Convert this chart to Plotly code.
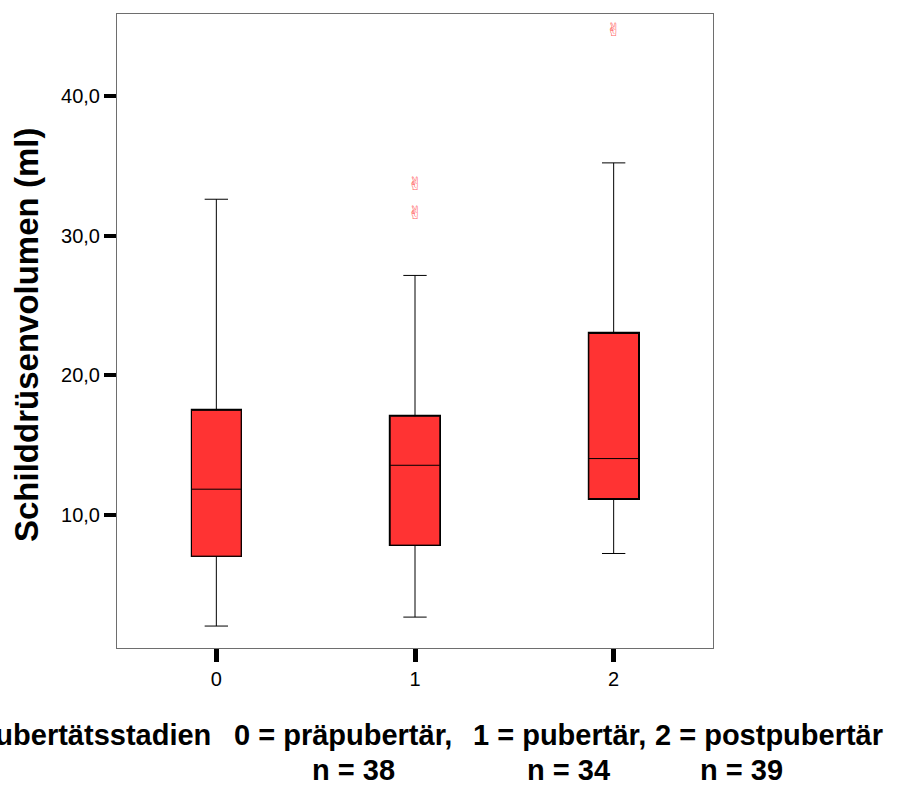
import plotly.graph_objects as go

# ---- data ----
groups = [0, 1, 2]
tick_labels = ["0", "1", "2"]
q1 = [7.07, 7.86, 11.19]
median = [11.86, 13.57, 14.05]
q3 = [17.5, 17.08, 23.0]
lower_whisker = [2.07, 2.71, 7.26]
upper_whisker = [32.6, 27.15, 35.2]
outlier_x = [1, 1, 2]
outlier_y = [33.6, 31.5, 44.6]
y_ticks = [10, 20, 30, 40]
x_title_parts = ["Pubertätsstadien", "0 = präpubertär,", "1 = pubertär,", "2 = postpubertär"]
n_labels = ["n = 38", "n = 34", "n = 39"]

FONT = "Liberation Sans, Arial, sans-serif"
RED = "#FF3333"
TICK_SIZE = 20
TEXT_SIZE = 29

# plot-area pixel geometry
W, H = 901, 789
L, R, T, B = 117, 713, 14, 648


def pxx(px):
    return (px - L) / (R - L)


def pxy(py):
    return (B - py) / (B - T)


fig = go.Figure()

# thick outline of the boxes (drawn below the box trace)
fig.add_trace(go.Bar(
    x=groups,
    base=q1,
    y=[b - a for a, b in zip(q1, q3)],
    width=0.25,
    marker=dict(color=RED, line=dict(color="black", width=2.2)),
    hoverinfo="skip",
    showlegend=False,
))

fig.add_trace(go.Box(
    x=groups,
    q1=q1,
    median=median,
    q3=q3,
    lowerfence=lower_whisker,
    upperfence=upper_whisker,
    width=0.25,
    whiskerwidth=0.47,
    fillcolor=RED,
    line=dict(color="black", width=1),
    boxpoints=False,
    showlegend=False,
))

fig.add_trace(go.Scatter(
    x=outlier_x,
    y=outlier_y,
    mode="text",
    text=["✌"] * len(outlier_x),
    textfont=dict(family="DejaVu Sans", size=18, color="#FF6060"),
    textposition="middle center",
    showlegend=False,
    hoverinfo="skip",
))

annotations = []
# y axis title
annotations.append(dict(
    text="<b>Schilddrüsenvolumen (ml)</b>",
    xref="paper", yref="paper",
    x=pxx(26), y=pxy(335),
    xanchor="center", yanchor="middle",
    textangle=-90, showarrow=False,
    font=dict(family=FONT, size=33, color="black"),
))

# x title, line 1
line1_y = pxy(735)
annotations.append(dict(
    text="<b>" + x_title_parts[0] + "</b>", xref="paper", yref="paper",
    x=pxx(213), y=line1_y, xanchor="right", yanchor="middle",
    showarrow=False, font=dict(family=FONT, size=TEXT_SIZE, color="black"),
))
for part, left in zip(x_title_parts[1:], [232, 471, 653]):
    annotations.append(dict(
        text="<b>" + part + "</b>", xref="paper", yref="paper",
        x=pxx(left), y=line1_y, xanchor="left", yanchor="middle",
        showarrow=False, font=dict(family=FONT, size=TEXT_SIZE, color="black"),
    ))
# line 2
line2_y = pxy(769.5)
for lab, left in zip(n_labels, [310, 525, 698]):
    annotations.append(dict(
        text="<b>" + lab + "</b>", xref="paper", yref="paper",
        x=pxx(left), y=line2_y, xanchor="left", yanchor="middle",
        showarrow=False, font=dict(family=FONT, size=TEXT_SIZE, color="black"),
    ))

fig.update_layout(
    width=W, height=H,
    margin=dict(l=L, r=W - R, t=T, b=H - B, pad=0),
    paper_bgcolor="white",
    plot_bgcolor="white",
    separators=",.",
    bargap=0,
    showlegend=False,
    annotations=annotations,
    font=dict(family=FONT, size=TICK_SIZE, color="black"),
    xaxis=dict(
        range=[-0.5, 2.5],
        tickmode="array", tickvals=groups, ticktext=tick_labels,
        ticks="outside", ticklen=13, tickwidth=4.5, tickcolor="black",
        tickfont=dict(family=FONT, size=TICK_SIZE, color="black"),
        showline=True, linecolor="#6e6e6e", linewidth=1, mirror=True,
        showgrid=False, zeroline=False,
    ),
    yaxis=dict(
        range=[0.5, 45.85],
        tickmode="array", tickvals=y_ticks, tickformat=".1f",
        ticks="outside", ticklen=12, tickwidth=4, tickcolor="black",
        tickfont=dict(family=FONT, size=TICK_SIZE, color="black"),
        ticklabelstandoff=0,
        showline=True, linecolor="#6e6e6e", linewidth=1, mirror=True,
        showgrid=False, zeroline=False,
    ),
)

fig.write_html("out.html")
